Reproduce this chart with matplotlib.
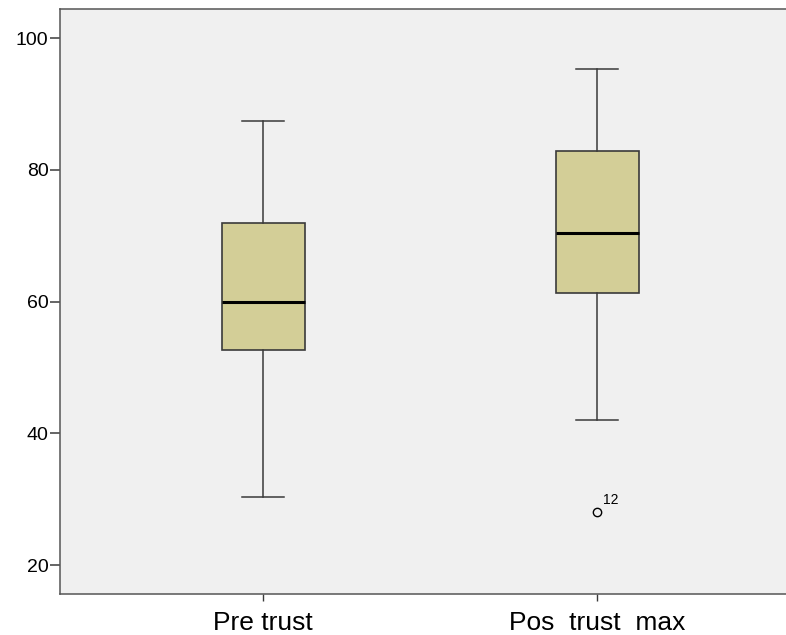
import matplotlib
matplotlib.use("Agg")
import matplotlib.pyplot as plt

plt.rcParams['font.family'] = ['Liberation Sans', 'DejaVu Sans']

labels = ["Pre trust", "Pos  trust  max"]
q1 = [52.6, 61.3]
medians = [59.9, 70.35]
q3 = [72.0, 82.8]
whislo = [30.3, 42.0]
whishi = [87.5, 95.3]
fliers = [[], [28.0]]
flier_ids = [[], ["12"]]

stats = []
for i in range(len(labels)):
    stats.append(dict(label=labels[i], q1=q1[i], med=medians[i], q3=q3[i],
                      whislo=whislo[i], whishi=whishi[i], fliers=fliers[i]))

fig = plt.figure(figsize=(7.86, 6.35), dpi=100)
ax = fig.add_axes([0.0757, 0.0646, 0.9243, 0.9208])
ax.set_facecolor("#f0f0f0")

line_c = "#3a3a3a"
ax.bxp(stats, positions=[1, 2], widths=0.25, patch_artist=True,
       boxprops=dict(facecolor="#d3ce97", edgecolor=line_c, linewidth=1.2),
       medianprops=dict(color="black", linewidth=2.2),
       whiskerprops=dict(color=line_c, linewidth=1.1),
       capprops=dict(color=line_c, linewidth=1.1),
       capwidths=0.125,
       flierprops=dict(marker="o", markersize=6, markerfacecolor="none",
                       markeredgecolor="black", markeredgewidth=1.0))

for i, ids in enumerate(flier_ids):
    for v, t in zip(fliers[i], ids):
        ax.annotate(t, (i + 1, v), xytext=(4, 6), textcoords="offset points",
                    fontsize=10, color="black")

ax.set_xlim(0.39, 2.565)
ax.set_ylim(15.6, 104.4)
ax.set_yticks([20, 40, 60, 80, 100])
ax.set_xticks([1, 2])
ax.set_xticklabels(labels, fontsize=19)
ax.tick_params(axis="y", labelsize=14, length=7, width=1.1, color=line_c, pad=1)
ax.tick_params(axis="x", length=5, width=1.0, color=line_c, pad=7)
ax.spines["right"].set_visible(False)
for s in ["left", "bottom", "top"]:
    ax.spines[s].set_color("#555555")
    ax.spines[s].set_linewidth(1.1)

fig.savefig("out.png", dpi=100)
